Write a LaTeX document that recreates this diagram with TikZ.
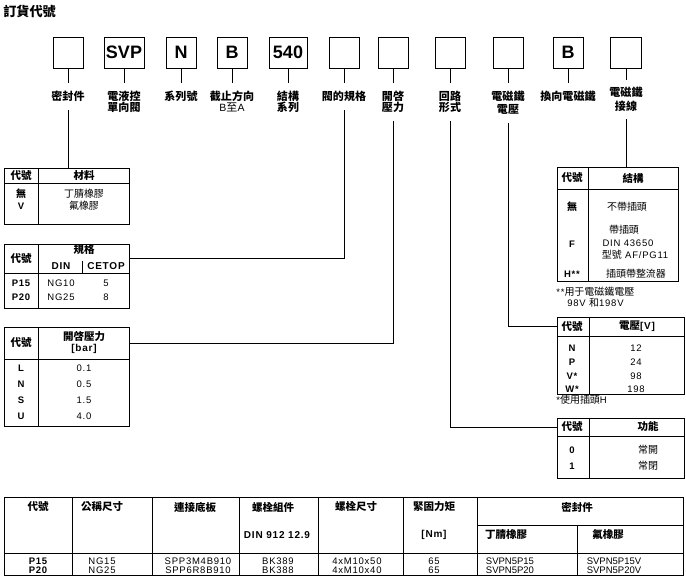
\documentclass[tikz,border=0pt]{standalone}
\usepackage{fontspec}
\setmainfont{Liberation Sans}[LetterSpace=8]
\newfontfamily\plainfont{Liberation Sans}
\newfontfamily\zhfont{Noto Sans CJK TC}[Scale=1.05]
\newcommand*{\zh}[1]{{\zhfont #1}}

\tikzset{
	codebox/.style={draw, minimum width=30, minimum height=31, inner sep=0, font=\fontsize{18}{18}\selectfont\bfseries\plainfont},
	tag/.style={anchor=north, align=center, inner xsep=1, inner ysep=8, font=\fontsize{10.5}{11}\selectfont\bfseries\zhfont},
	tabframe/.style={draw, inner sep=0, anchor=north west},
	tabhead/.style={inner sep=0, align=center, font=\fontsize{10}{11}\selectfont\bfseries},
	tabcode/.style={inner sep=0, font=\fontsize{9.5}{10}\selectfont\bfseries},
	tabtext/.style={inner sep=0, align=center, font=\fontsize{9.5}{10}\selectfont},
	tabnote/.style={inner sep=0, anchor=west, font=\fontsize{9.5}{10}\selectfont},
}

\begin{document}
\begin{tikzpicture}[x=1pt, y=-1pt, line width=0.7pt]
	\useasboundingbox (0,0) rectangle (686,580);

	\node[anchor=west, inner sep=0, font=\fontsize{12.5}{12}\selectfont\bfseries\zhfont] (title) at (3,11) {訂貨代號};

	% code boxes
	\node[codebox] (seal) at (68,52.5) {};
	\node[codebox, minimum width=40] (svp) at (124,52.5) {SVP};
	\node[codebox] (ser) at (181,52.5) {N};
	\node[codebox] (dir) at (232,52.5) {B};
	\node[codebox, minimum width=38] (des) at (288,52.5) {540};
	\node[codebox] (size) at (344,52.5) {};
	\node[codebox] (crk) at (393,52.5) {};
	\node[codebox] (circ) at (450,52.5) {};
	\node[codebox] (volt) at (508,52.5) {};
	\node[codebox] (sol) at (568,52.5) {B};
	\node[codebox, minimum width=31] (conn) at (626,52.5) {};

	\node[tag] (lseal) at (68,83) {密封件};
	\node[tag] (lsvp) at (124,83) {電液控\\單向閥};
	\node[tag] (lser) at (181,83) {系列號};
	\node[tag] (ldir) at (232,83) {截止方向\\{\mdseries\rmfamily B\zh{至}A}};
	\node[tag] (ldes) at (288,83) {結構\\系列};
	\node[tag] (lsize) at (344,83) {閥的規格};
	\node[tag] (lcrk) at (393,83) {開啓\\壓力};
	\node[tag] (lcirc) at (450,83) {回路\\形式};
	\node[tag] (lvolt) at (508,83) {電磁鐵\\[1.5pt]電壓};
	\node[tag] (lsol) at (568,83) {換向電磁鐵};
	\node[tag, inner ysep=7] (lconn) at (626,80) {電磁鐵\\[3pt]接線};

	\draw (seal.south) -- (lseal.north);
	\draw (svp.south) -- (lsvp.north);
	\draw (ser.south) -- (lser.north);
	\draw (dir.south) -- (ldir.north);
	\draw (des.south) -- (ldes.north);
	\draw (size.south) -- (lsize.north);
	\draw (crk.south) -- (lcrk.north);
	\draw (circ.south) -- (lcirc.north);
	\draw (volt.south) -- (lvolt.north);
	\draw (sol.south) -- (lsol.north);
	\draw (conn.south) -- (lconn.north);

	% seal material
	\node[tabframe, minimum width=125, minimum height=15] (mathd) at (4,168) {};
	\node[tabframe, minimum width=125, minimum height=41] (matbd) at (4,183) {};
	\draw (38,168) -- (38,224);
	\node[tabhead] (matc) at (21,175.5) {\zh{代號}};
	\node[tabhead] (matm) at (84,175.5) {\zh{材料}};
	\node[tabcode] (mat1c) at (21,194) {\zh{無}};
	\node[tabtext] (mat1v) at (84,194) {\zh{丁腈橡膠}};
	\node[tabcode] (mat2c) at (21,206) {V};
	\node[tabtext] (mat2v) at (84,206) {\zh{氟橡膠}};
	\draw (lseal.south) -- (lseal.south |- mathd.north);

	% valve size
	\node[tabframe, minimum width=125, minimum height=29] (sizhd) at (4,244) {};
	\node[tabframe, minimum width=125, minimum height=35] (sizbd) at (4,273) {};
	\draw (38,244) -- (38,308);
	\draw (82,261) -- (82,273);
	\node[tabhead] (sizc) at (21,258.5) {\zh{代號}};
	\node[tabhead] (sizs) at (84,250) {\zh{規格}};
	\node[tabhead] (sizdin) at (61,266) {DIN};
	\node[tabhead] (sizcet) at (106,266) {CETOP};
	\node[tabcode] (siz1c) at (21,283) {P15};
	\node[tabtext] (siz1d) at (61,283) {NG10};
	\node[tabtext] (siz1e) at (106,283) {5};
	\node[tabcode] (siz2c) at (21,297) {P20};
	\node[tabtext] (siz2d) at (61,297) {NG25};
	\node[tabtext] (siz2e) at (106,297) {8};
	\draw (lsize.south) |- (sizhd.east);

	% cracking pressure
	\node[tabframe, minimum width=125, minimum height=32] (crkhd) at (4,327) {};
	\node[tabframe, minimum width=125, minimum height=67] (crkbd) at (4,359) {};
	\draw (38,327) -- (38,426);
	\node[tabhead] (crkc) at (21,343) {\zh{代號}};
	\node[tabhead] (crkp) at (84,342.5) {\zh{開啓壓力}\\{[bar]}};
	\node[tabcode] (crk1c) at (21,368) {L};
	\node[tabtext] (crk1v) at (84,368) {0.1};
	\node[tabcode] (crk2c) at (21,384) {N};
	\node[tabtext] (crk2v) at (84,384) {0.5};
	\node[tabcode] (crk3c) at (21,400) {S};
	\node[tabtext] (crk3v) at (84,400) {1.5};
	\node[tabcode] (crk4c) at (21,416) {U};
	\node[tabtext] (crk4v) at (84,416) {4.0};
	\draw (lcrk.south) |- (crkhd.east);

	% connection
	\node[tabframe, minimum width=121, minimum height=22] (conhd) at (557,167) {};
	\node[tabframe, minimum width=121, minimum height=92] (conbd) at (557,189) {};
	\draw (588,167) -- (588,281);
	\node[tabhead] (conc) at (572,178) {\zh{代號}};
	\node[tabhead] (cons) at (633,178) {\zh{結構}};
	\node[tabcode] (con1c) at (572,207) {\zh{無}};
	\node[tabtext] (con1v) at (627,207) {\zh{不帶插頭}};
	\node[tabcode] (con2c) at (572,244) {F};
	\node[tabtext] (con2a) at (624,230) {\zh{帶插頭}};
	\node[tabtext] (con2b) at (628,243) {DIN 43650};
	\node[tabtext] (con2d) at (635,255) {\zh{型號} AF/PG11};
	\node[tabcode] (con3c) at (572,274) {H**};
	\node[tabtext] (con3v) at (636,274) {\zh{插頭帶整流器}};
	\node[tabnote] (connote) at (556,292) {**\zh{用于電磁鐵電壓}};
	\node[tabnote] (connoteb) at (567,303) {98V \zh{和}198V};
	\draw (lconn.south) -- (lconn.south |- conhd.north);

	% coil voltage
	\node[tabframe, minimum width=127, minimum height=19] (volhd) at (557,317) {};
	\node[tabframe, minimum width=127, minimum height=58] (volbd) at (557,336) {};
	\draw (589,317) -- (589,394);
	\node[tabhead] (volc) at (572,326.5) {\zh{代號}};
	\node[tabhead] (volv) at (637,326.5) {\zh{電壓}[V]};
	\node[tabcode] (vol1c) at (572,348) {N};
	\node[tabtext] (vol1v) at (636,348) {12};
	\node[tabcode] (vol2c) at (572,362) {P};
	\node[tabtext] (vol2v) at (636,362) {24};
	\node[tabcode] (vol3c) at (572,376) {V*};
	\node[tabtext] (vol3v) at (636,376) {98};
	\node[tabcode] (vol4c) at (572,389) {W*};
	\node[tabtext] (vol4v) at (636,389) {198};
	\node[tabnote] (volnote) at (556,400) {*\zh{使用插頭}H};
	\draw (lvolt.south) |- (volhd.west);

	% circuit
	\node[tabframe, minimum width=127, minimum height=18] (funhd) at (557,418) {};
	\node[tabframe, minimum width=127, minimum height=42] (funbd) at (557,436) {};
	\draw (589,418) -- (589,478);
	\node[tabhead] (func) at (572,427) {\zh{代號}};
	\node[tabhead] (funf) at (648,427) {\zh{功能}};
	\node[tabcode] (fun1c) at (572,450) {0};
	\node[tabtext] (fun1v) at (648,450) {\zh{常開}};
	\node[tabcode] (fun2c) at (572,466) {1};
	\node[tabtext] (fun2v) at (648,466) {\zh{常閉}};
	\draw (lcirc.south) |- (funhd.west);

	% subplates and seal kits
	\node[tabframe, minimum width=679, minimum height=78] (spec) at (4,497) {};
	\draw (4,553) -- (683,553);
	\draw (477,525) -- (683,525);
	\draw (72,497) -- (72,575);
	\draw (152,497) -- (152,575);
	\draw (239,497) -- (239,575);
	\draw (318,497) -- (318,575);
	\draw (403,497) -- (403,575);
	\draw (477,497) -- (477,575);
	\draw (577,525) -- (577,575);
	\node[tabhead] (spc) at (38,507) {\zh{代號}};
	\node[tabhead] (spn) at (102,507) {\zh{公稱尺寸}};
	\node[tabhead] (spp) at (195,507) {\zh{連接底板}};
	\node[tabhead] (spb) at (273,507) {\zh{螺栓組件}};
	\node[tabhead] (sps) at (356,507) {\zh{螺栓尺寸}};
	\node[tabhead] (spt) at (434,507) {\zh{緊固力矩}};
	\node[tabhead] (spk) at (577,507) {\zh{密封件}};
	\node[tabhead] (spbd) at (277,535) {DIN 912 12.9};
	\node[tabhead] (sptu) at (434,535) {[Nm]};
	\node[tabhead] (spkn) at (506,535) {\zh{丁腈橡膠}};
	\node[tabhead] (spkv) at (608,535) {\zh{氟橡膠}};
	\node[tabcode] (sp1c) at (38,561) {P15};
	\node[tabtext] (sp1n) at (102,561) {NG15};
	\node[tabtext] (sp1p) at (198,561) {SPP3M4B910};
	\node[tabtext] (sp1b) at (278,561) {BK389};
	\node[tabtext] (sp1s) at (357,561) {4xM10x50};
	\node[tabtext] (sp1t) at (434,561) {65};
	\node[tabtext, font=\fontsize{9.5}{10}\selectfont\plainfont] (sp1k) at (510,561) {SVPN5P15};
	\node[tabtext, font=\fontsize{9.5}{10}\selectfont\plainfont] (sp1v) at (614,561) {SVPN5P15V};
	\node[tabcode] (sp2c) at (38,570) {P20};
	\node[tabtext] (sp2n) at (102,570) {NG25};
	\node[tabtext] (sp2p) at (198,570) {SPP6R8B910};
	\node[tabtext] (sp2b) at (278,570) {BK388};
	\node[tabtext] (sp2s) at (357,570) {4xM10x40};
	\node[tabtext] (sp2t) at (434,570) {65};
	\node[tabtext, font=\fontsize{9.5}{10}\selectfont\plainfont] (sp2k) at (510,570) {SVPN5P20};
	\node[tabtext, font=\fontsize{9.5}{10}\selectfont\plainfont] (sp2v) at (614,570) {SVPN5P20V};
\end{tikzpicture}
\end{document}
